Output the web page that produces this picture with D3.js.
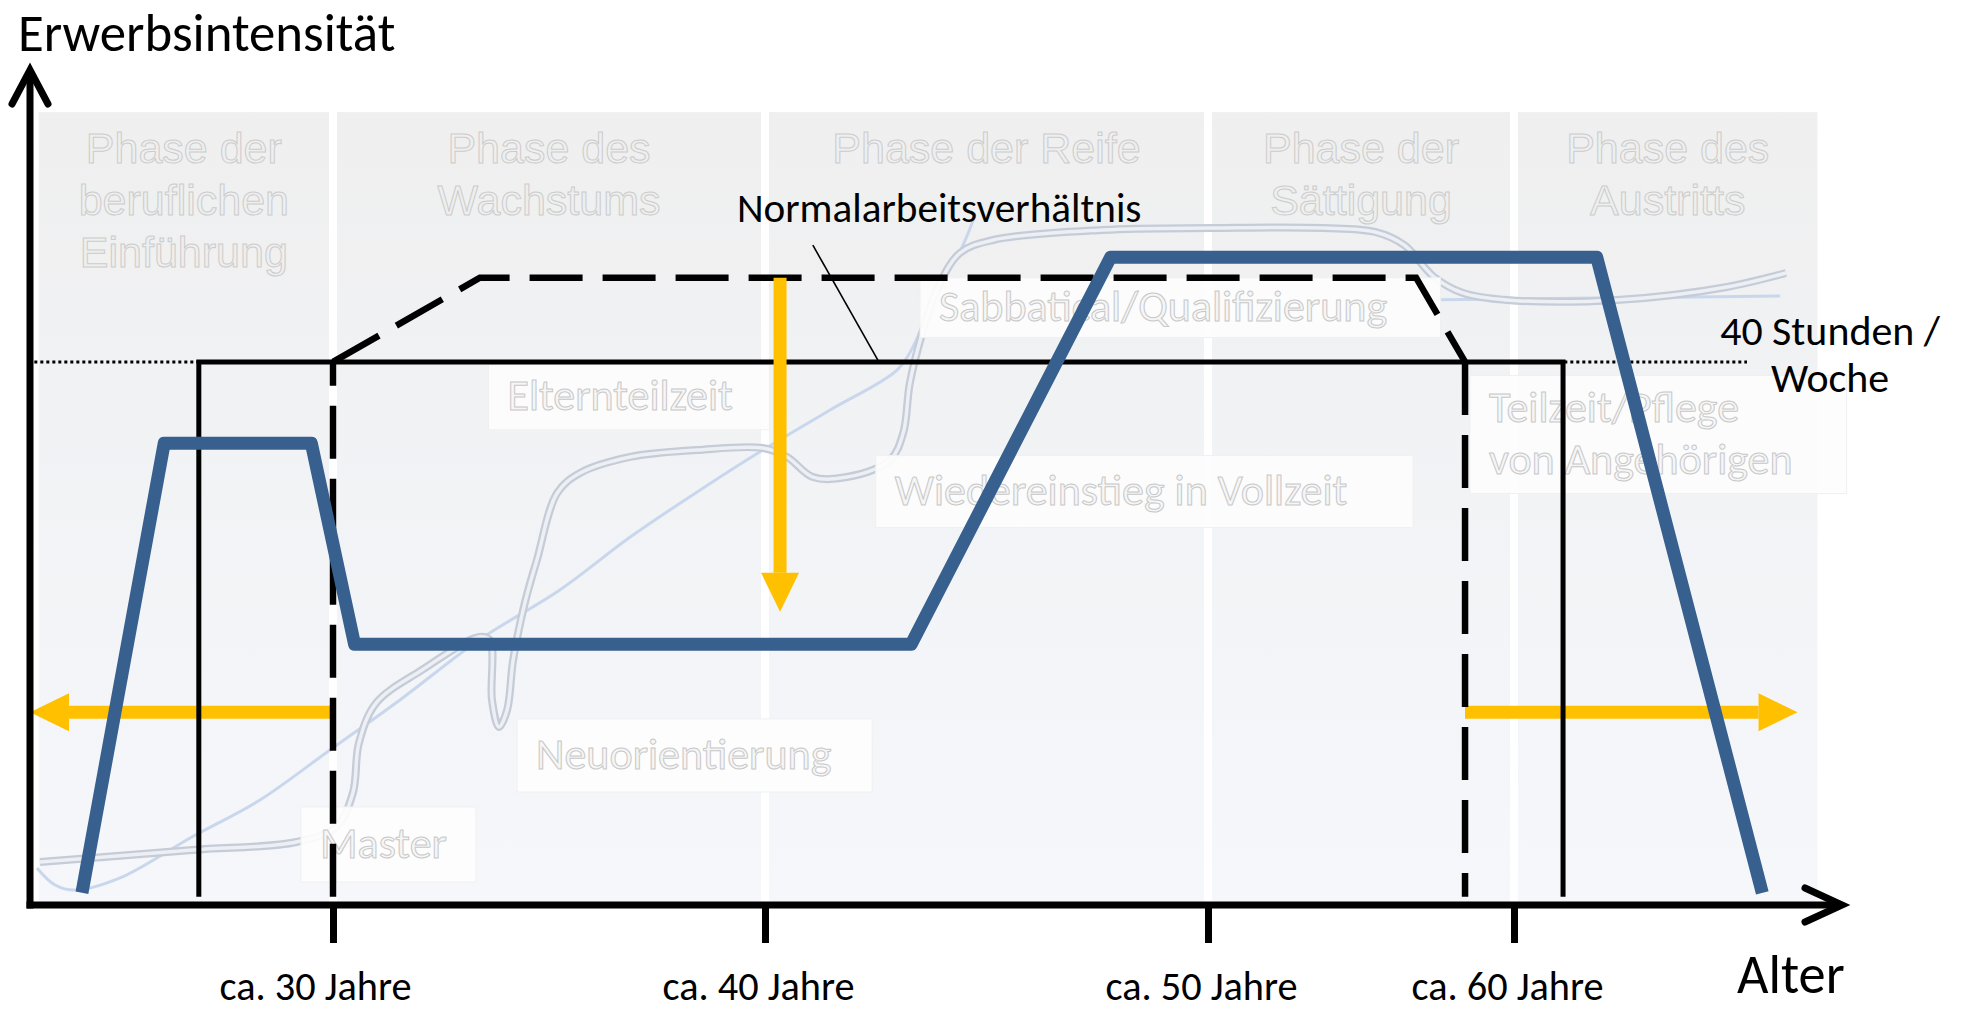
<!DOCTYPE html>
<html>
<head>
<meta charset="utf-8">
<script src="https://cdn.jsdelivr.net/npm/d3@7"></script>
<style>
  body { margin: 0; background: #fff; }
</style>
</head>
<body>
<div id="chart"></div>
<script>
// --- Daten (x = Alter in Jahren, y = Wochenstunden) ---
const tickAges = [30, 40, 50, 60];
const phaseBounds = [23.2, 30, 40, 50, 60, 69.9];
const phaseLabels = [
  ["Phase der", "beruflichen", "Einführung"],
  ["Phase des", "Wachstums"],
  ["Phase der Reife"],
  ["Phase der", "Sättigung"],
  ["Phase des", "Austritts"]
];
const fullTimeHours = 40;
const fullTimeSpan = [23.1, 67.6];

// flexibler Erwerbsverlauf (blaue Linie)
const erwerbsverlauf = [
  [24.2, 0.9], [26.1, 34], [29.5, 34], [30.5, 19.2],
  [43.3, 19.2], [47.8, 47.7], [62.7, 47.7], [68.1, 0.9]
];
// Normalarbeitsverhältnis (durchgezogen)
const normalarbeit = [[26.9, 0.6], [26.9, 40], [61.6, 40], [61.6, 0.6]];
// erweiterter Korridor (gestrichelt)
const flexLeft = [[30, 0.6], [30, 40]];
const flexTop = [[30, 40], [33.4, 46.2], [56.8, 46.2], [58.4, 40]];
const flexRight = [[58.4, 40], [58.4, 0.6]];

// gelbe Pfeile: [von, bis]
const yellowArrows = [
  [[40.34, 46.2], [40.34, 21.6]],
  [[30, 14.2], [23.0, 14.2]],
  [[58.4, 14.2], [69.25, 14.2]]
];

// blasse Hintergrundkurven
const curveThick = [
  [23.23, 3.17], [26.74, 4.05], [29.15, 4.64], [30.07, 5.75], [30.46, 8.25],
  [30.6, 11.93], [31.0, 14.88], [32.06, 17.31], [33.38, 19.74], [33.63, 19.52],
  [33.68, 15.1], [33.84, 13.11], [34.03, 14.36], [34.17, 18.05], [34.44, 22.24],
  [34.72, 25.41], [35.19, 30.35], [35.72, 31.82], [36.88, 33.0], [38.43, 33.51],
  [39.95, 33.66], [40.5, 33.0], [41.08, 31.52], [41.85, 31.52], [42.82, 32.78],
  [43.12, 34.76], [43.27, 38.45], [43.57, 42.35], [43.88, 45.3], [44.4, 48.02],
  [45.15, 48.98], [47.63, 49.72], [50.2, 49.86], [53.79, 49.86], [55.46, 49.57],
  [56.41, 48.61], [57.39, 46.25], [58.33, 45.08], [59.77, 44.56], [63.36, 44.56],
  [66.95, 45.52], [68.87, 46.55]
];
const curveThin = [
  [23.16, 2.73], [23.58, 1.47], [24.04, 1.1], [25.08, 1.99], [26.74, 5.01],
  [28.31, 7.73], [29.93, 11.42], [31.55, 15.1], [33.38, 19.52], [35.25, 23.2],
  [36.88, 27.1], [38.5, 30.57], [39.95, 33.51], [41.47, 36.46], [42.98, 39.4],
  [43.34, 41.1], [43.86, 45.08], [44.45, 48.46], [44.74, 50.82]
];
const curveFlat = [[56.93, 44.56], [62.81, 44.71], [68.68, 44.86]];

// blasse Textfelder
const labelBoxes = [
  { lines: ["Sabbatical/Qualifizierung"], ages: [43.5, 57.6], hours: [41.8, 46.2] },
  { lines: ["Elternteilzeit"], ages: [33.6, 40.1], hours: [35.0, 39.8] },
  { lines: ["Wiedereinstieg in Vollzeit"], ages: [42.5, 56.7], hours: [27.8, 33.1] },
  { lines: ["Teilzeit/Pflege", "von Angehörigen"], ages: [58.56, 70.85], hours: [30.3, 39.0] },
  { lines: ["Neuorientierung"], ages: [34.26, 42.42], hours: [8.32, 13.7] },
  { lines: ["Master"], ages: [29.26, 33.31], hours: [1.69, 7.22] }
];

// --- Aufbau ---
const width = 1962;
const height = 1010;
const FONT = "Carlito, Calibri, Lato, sans-serif";
const ARIAL = "'Liberation Sans', Arial, sans-serif";
const BLUE = "#37608f";
const YELLOW = "#ffc000";

const svg = d3.select("#chart")
  .append("svg")
  .attr("width", width)
  .attr("height", height);

// Altersachse mit ungleichen Abständen zwischen den Markierungen
const x = d3.scaleLinear()
  .domain([23, 30, 40, 50, 60, 70.7])
  .range([30, 333, 765, 1208, 1514, 1842]);
const y = d3.scaleLinear()
  .domain([0, 61.5])
  .range([905, 70]);

const line = d3.line().x(d => x(d[0])).y(d => y(d[1]));

// Schriftgröße an Calibri-Breiten anpassen
const probe = svg.append("text").style("font-family", FONT).style("font-size", "100px")
  .text("Normalarbeitsverhältnis");
const fontK = (405 / probe.node().getComputedTextLength()) * 100 / 39.4;
probe.remove();
const fs = c => (c * fontK).toFixed(1) + "px";

// Verlauf für die Phasenflächen
const defs = svg.append("defs");
const grad = defs.append("linearGradient")
  .attr("id", "phaseFill")
  .attr("x1", 0).attr("y1", 0).attr("x2", 0).attr("y2", 1);
grad.append("stop").attr("offset", "0%").attr("stop-color", "#efefef");
grad.append("stop").attr("offset", "35%").attr("stop-color", "#f1f2f4");
grad.append("stop").attr("offset", "100%").attr("stop-color", "#f6f7fb");

// Phasen
const phaseTop = 58.4;
const phases = svg.append("g").attr("class", "phases");
phaseLabels.forEach((lines, i) => {
  const x0 = x(phaseBounds[i]) + (i > 0 ? 4 : 0);
  const x1 = x(phaseBounds[i + 1]) - (i < phaseLabels.length - 1 ? 4 : 0);
  phases.append("rect")
    .attr("x", x0)
    .attr("y", y(phaseTop))
    .attr("width", x1 - x0)
    .attr("height", y(0) - 3 - y(phaseTop))
    .attr("fill", "url(#phaseFill)");
  phases.append("text")
    .attr("text-anchor", "middle")
    .style("font-family", ARIAL)
    .style("font-size", "43px")
    .attr("fill", "#efefef")
    .attr("stroke", "#cccccc")
    .attr("stroke-width", 1)
    .selectAll("tspan")
    .data(lines)
    .join("tspan")
    .attr("x", (x0 + x1) / 2)
    .attr("y", (d, j) => y(phaseTop) + 51 + j * 52)
    .text(d => d);
});

// blasse Kurven
const decor = svg.append("g").attr("class", "decor").attr("fill", "none");
const smooth = d3.line().x(d => x(d[0])).y(d => y(d[1])).curve(d3.curveCatmullRom.alpha(0.5));
decor.append("path").attr("d", smooth(curveThin))
  .attr("stroke", "#c9d7ec").attr("stroke-width", 3);
decor.append("path").attr("d", smooth(curveFlat))
  .attr("stroke", "#c9d7ec").attr("stroke-width", 3);
decor.append("path").attr("d", smooth(curveThick))
  .attr("stroke", "#c5ccd7").attr("stroke-width", 8);
decor.append("path").attr("d", smooth(curveThick))
  .attr("stroke", "#eceff4").attr("stroke-width", 3.5);

// blasse Textfelder
const boxes = svg.append("g").attr("class", "label-boxes");
labelBoxes.forEach(b => {
  const bx0 = x(b.ages[0]), bx1 = x(b.ages[1]);
  const by0 = y(b.hours[1]), by1 = y(b.hours[0]);
  boxes.append("rect")
    .attr("x", bx0).attr("y", by0)
    .attr("width", bx1 - bx0).attr("height", by1 - by0)
    .attr("fill", "#fdfdfd")
    .attr("fill-opacity", 0.92)
    .attr("stroke", "#f0f0f0");
  const cy = (by0 + by1) / 2;
  const n = b.lines.length;
  boxes.append("text")
    .style("font-family", FONT)
    .style("font-size", fs(42))
    .attr("fill", "#f6f6f6")
    .attr("stroke", "#c8c8c8")
    .attr("stroke-width", 1)
    .selectAll("tspan")
    .data(b.lines)
    .join("tspan")
    .attr("x", bx0 + 19)
    .attr("y", (d, j) => cy + 13 + (j - (n - 1) / 2) * 52)
    .text(d => d);
});

// gelbe Pfeile (waagrecht unter den schwarzen Linien)
function yellowArrow(g, a) {
  const [p0, p1] = a;
  const X0 = x(p0[0]), Y0 = y(p0[1]), X1 = x(p1[0]), Y1 = y(p1[1]);
  const len = Math.hypot(X1 - X0, Y1 - Y0);
  const ux = (X1 - X0) / len, uy = (Y1 - Y0) / len;
  const headL = 39, headW = 19;
  g.append("line")
    .attr("x1", X0).attr("y1", Y0)
    .attr("x2", X1 - ux * headL).attr("y2", Y1 - uy * headL)
    .attr("stroke", YELLOW).attr("stroke-width", 13);
  const bx = X1 - ux * headL, by = Y1 - uy * headL;
  g.append("path")
    .attr("d", `M${X1},${Y1}L${bx - uy * headW},${by + ux * headW}L${bx + uy * headW},${by - ux * headW}Z`)
    .attr("fill", YELLOW);
}
const yellowLow = svg.append("g");
yellowArrows.slice(1).forEach(a => yellowArrow(yellowLow, a));

// Normalarbeitsverhältnis und Korridor
svg.append("path").attr("d", line(normalarbeit))
  .attr("fill", "none").attr("stroke", "#000").attr("stroke-width", 5);
[flexLeft, flexTop, flexRight].forEach(seg => {
  svg.append("path").attr("d", line(seg))
    .attr("fill", "none").attr("stroke", "#000").attr("stroke-width", 6.5)
    .attr("stroke-dasharray", "53 20");
});

// 40-Stunden-Linie
svg.append("line")
  .attr("x1", x(fullTimeSpan[0])).attr("x2", x(fullTimeSpan[1]))
  .attr("y1", y(fullTimeHours)).attr("y2", y(fullTimeHours))
  .attr("stroke", "#000").attr("stroke-width", 3)
  .attr("stroke-dasharray", "3 3");

// senkrechter gelber Pfeil
yellowArrow(svg.append("g"), yellowArrows[0]);

// Beschriftung Normalarbeitsverhältnis
svg.append("line")
  .attr("x1", x(41.08)).attr("y1", y(48.6))
  .attr("x2", x(42.57)).attr("y2", y(fullTimeHours))
  .attr("stroke", "#000").attr("stroke-width", 1.6);
svg.append("text")
  .attr("x", x(39.35)).attr("y", y(50.3))
  .style("font-family", FONT).style("font-size", fs(39.4))
  .text("Normalarbeitsverhältnis");

// blaue Linie
svg.append("path").attr("d", line(erwerbsverlauf))
  .attr("fill", "none")
  .attr("stroke", BLUE)
  .attr("stroke-width", 13)
  .attr("stroke-linejoin", "round");

// 40 Stunden / Woche
svg.append("text")
  .attr("text-anchor", "middle")
  .style("font-family", FONT).style("font-size", fs(40))
  .selectAll("tspan")
  .data(["40 Stunden /", "Woche"])
  .join("tspan")
  .attr("x", x(70.31))
  .attr("y", (d, i) => y(41.25) + i * 47)
  .text(d => d);

// Achsen
const axisG = svg.append("g").attr("transform", `translate(0,${y(0)})`)
  .call(d3.axisBottom(x)
    .tickValues(tickAges)
    .tickSize(38)
    .tickFormat(d => `ca. ${d} Jahre`));
axisG.select(".domain").remove();
axisG.selectAll(".tick line").attr("stroke", "#000").attr("stroke-width", 7);
axisG.selectAll(".tick text")
  .attr("y", 95).attr("dy", null)
  .attr("dx", d => d === tickAges[0] ? -18 : -7)
  .attr("fill", "#000")
  .style("font-family", FONT).style("font-size", fs(38.5));

const xEnd = x(x.domain()[x.domain().length - 1]);
const yTop = y(y.domain()[1]);
svg.append("line")
  .attr("x1", x(23) - 3.5).attr("x2", xEnd - 4)
  .attr("y1", y(0)).attr("y2", y(0))
  .attr("stroke", "#000").attr("stroke-width", 7);
svg.append("line")
  .attr("x1", x(23)).attr("x2", x(23))
  .attr("y1", y(0) + 3.5).attr("y2", yTop + 4)
  .attr("stroke", "#000").attr("stroke-width", 7);
svg.append("path")
  .attr("d", `M${xEnd - 37},${y(0) - 17}L${xEnd},${y(0)}L${xEnd - 37},${y(0) + 17}`)
  .attr("fill", "none").attr("stroke", "#000").attr("stroke-width", 7)
  .attr("stroke-linecap", "round").attr("stroke-linejoin", "miter");
svg.append("path")
  .attr("d", `M${x(23) - 18},${yTop + 34}L${x(23)},${yTop}L${x(23) + 18},${yTop + 34}`)
  .attr("fill", "none").attr("stroke", "#000").attr("stroke-width", 7)
  .attr("stroke-linecap", "round").attr("stroke-linejoin", "miter");

// Achsentitel
svg.append("text")
  .attr("x", 18).attr("y", 51)
  .style("font-family", FONT).style("font-size", fs(50.5))
  .text("Erwerbsintensität");
svg.append("text")
  .attr("x", 1737).attr("y", 993)
  .style("font-family", FONT).style("font-size", fs(52))
  .text("Alter");
</script>
</body>
</html>
